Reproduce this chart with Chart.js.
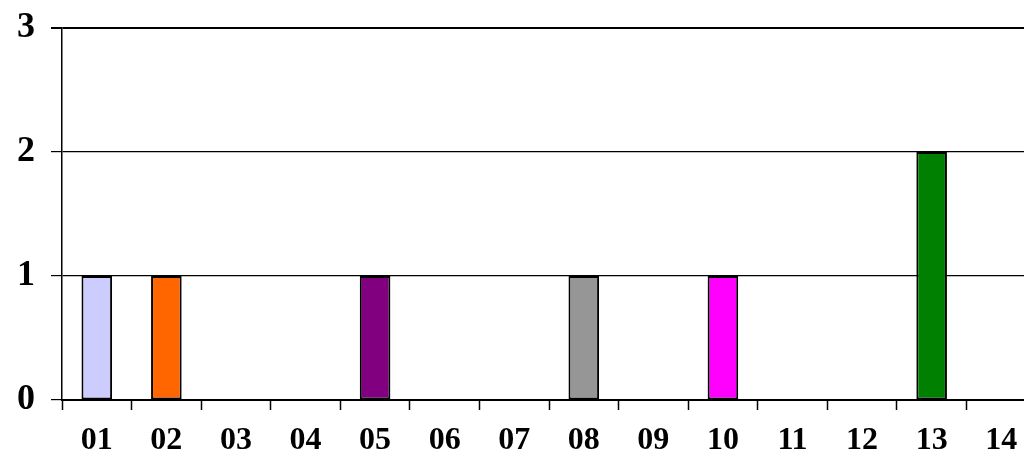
<!DOCTYPE html>
<html>
<head>
<meta charset="utf-8">
<script src="https://cdn.jsdelivr.net/npm/chart.js@4/dist/chart.umd.min.js"></script>
<style>
  html, body { margin: 0; padding: 0; background: #fff; overflow: hidden; }
  #wrap { width: 1036px; height: 454px; }
</style>
</head>
<body>
<div id="wrap"><canvas id="barChart" width="1036" height="454"></canvas></div>
<script>
// categories and values
const categories = ['01', '02', '03', '04', '05', '06', '07', '08', '09', '10', '11', '12', '13', '14'];
const counts = [1, 1, 0, 0, 1, 0, 0, 1, 0, 1, 0, 0, 2, 0];
const barColors = ['#ccccff', '#ff6600', '#ffffff', '#ffffff', '#800080', '#ffffff', '#ffffff',
  '#969696', '#ffffff', '#ff00ff', '#ffffff', '#ffffff', '#008000', '#ffffff'];
const yTicks = [0, 1, 2, 3];

const serif = '"Liberation Serif", "DejaVu Serif", serif';

const ctx = document.getElementById('barChart').getContext('2d');
new Chart(ctx, {
  type: 'bar',
  data: {
    labels: categories,
    datasets: [{
      data: counts,
      backgroundColor: barColors,
      borderColor: '#000',
      borderWidth: counts.map(v => v > 0 ? 2 : 0),
      borderSkipped: false,
      categoryPercentage: 1,
      barPercentage: 0.44
    }]
  },
  options: {
    responsive: false,
    animation: false,
    layout: { padding: { top: 28, right: 0, left: 0, bottom: 0 } },
    plugins: { legend: { display: false }, tooltip: { enabled: false } },
    scales: {
      x: {
        grid: {
          drawOnChartArea: false,
          drawTicks: true,
          tickLength: 10,
          tickColor: '#000',
          tickWidth: 1.5,
          offset: true
        },
        border: { color: '#000', width: 2 },
        ticks: {
          color: '#000',
          padding: 12,
          maxRotation: 0,
          font: { family: serif, weight: 'bold', size: 32 }
        },
        afterFit: s => { s.height = 54; }
      },
      y: {
        min: 0,
        max: 3,
        afterBuildTicks: s => { s.ticks = yTicks.map(v => ({ value: v })); },
        grid: {
          color: '#000',
          lineWidth: ctx => ctx.tick && ctx.tick.value === 3 ? 2 : 1.2,
          tickLength: 11,
          tickColor: '#000'
        },
        border: { color: '#000', width: 1.5 },
        ticks: {
          color: '#000',
          padding: 16,
          font: { family: serif, weight: 'bold', size: 36, lineHeight: 1 }
        },
        afterFit: s => { s.width = 62; s.paddingTop = 0; s.paddingBottom = 0; }
      }
    }
  }
});
</script>
</body>
</html>
